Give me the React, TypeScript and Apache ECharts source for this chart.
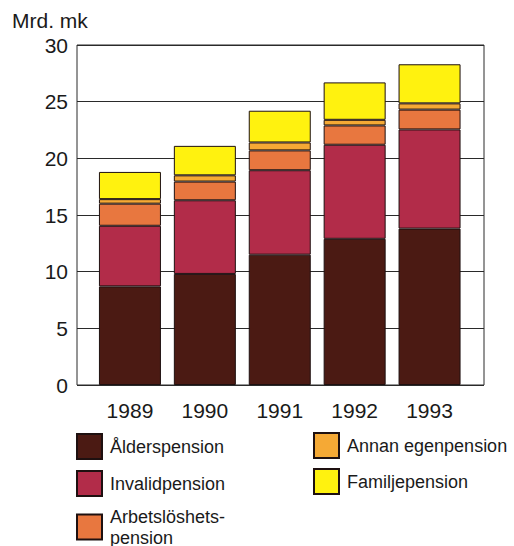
import React, { useEffect, useRef } from "react";
import * as echarts from "echarts";

const years = ["1989", "1990", "1991", "1992", "1993"];
const alder = [8.7, 9.8, 11.5, 12.9, 13.8];
const invalid = [5.35, 6.5, 7.45, 8.3, 8.75];
const arbets = [1.95, 1.65, 1.75, 1.7, 1.75];
const annan = [0.4, 0.55, 0.7, 0.5, 0.55];
const familj = [2.4, 2.6, 2.8, 3.3, 3.45];

const seriesNames = [
  "Ålderspension",
  "Invalidpension",
  "Arbetslöshets-\npension",
  "Annan egenpension",
  "Familjepension",
];
const seriesData = [alder, invalid, arbets, annan, familj];
const colors = ["#4b1a13", "#b22c49", "#e8773f", "#f5a935", "#fff20f"];

const FONT = "'Liberation Sans', Arial, Helvetica, sans-serif";

// legend box positions (left, top of icon)
const legendPos = [
  [76, 433],
  [76, 470],
  [76, 506],
  [313, 432],
  [313, 468],
];

export default function App() {
  const ref = useRef<HTMLDivElement>(null);
  useEffect(() => {
    if (!ref.current) return;
    const chart = echarts.init(ref.current, null, { renderer: "svg" });
    chart.setOption({
      animation: false,
      backgroundColor: "#ffffff",
      textStyle: { fontFamily: FONT },
      grid: [
        {
          left: 77,
          right: 30,
          top: 45,
          bottom: 161,
          show: true,
          borderColor: "#2a2a2a",
          borderWidth: 1,
          backgroundColor: "transparent",
        },
        { left: 92.5, right: 47, top: 45, bottom: 161 },
      ],
      xAxis: [
        {
          gridIndex: 0,
          type: "category",
          data: years,
          show: false,
        },
        {
          gridIndex: 1,
          type: "category",
          data: years,
          axisLine: { show: false },
          axisTick: { show: false },
          axisLabel: {
            color: "#1a1a1a",
            fontSize: 21,
            fontFamily: FONT,
            margin: 15,
          },
        },
      ],
      yAxis: [
        {
          gridIndex: 0,
          type: "value",
          min: 0,
          max: 30,
          interval: 5,
          name: "Mrd. mk",
          nameLocation: "end",
          nameGap: 14,
          nameTextStyle: {
            color: "#1a1a1a",
            fontSize: 21,
            fontFamily: FONT,
            align: "left",
            padding: [0, 0, 0, -65],
          },
          axisLine: { show: false },
          axisTick: { show: false },
          axisLabel: {
            color: "#1a1a1a",
            fontSize: 21,
            fontFamily: FONT,
            margin: 9,
          },
          splitLine: { show: true, lineStyle: { color: "#2a2a2a", width: 1 } },
        },
        {
          gridIndex: 1,
          type: "value",
          min: 0,
          max: 30,
          interval: 5,
          show: false,
          splitLine: { show: false },
        },
      ],
      legend: seriesNames.map((name, i) => ({
        left: legendPos[i][0],
        top: legendPos[i][1],
        padding: 0,
        orient: "vertical",
        itemWidth: 25,
        itemHeight: 25,
        icon: "rect",
        data: [name],
        textStyle: {
          color: "#1a1a1a",
          fontSize: 18,
          fontFamily: FONT,
          lineHeight: 21,
          padding: [0, 0, 0, 3],
        },
        selectedMode: false,
      })),
      series: seriesNames.map((name, i) => ({
        name,
        type: "bar",
        stack: "total",
        xAxisIndex: 1,
        yAxisIndex: 1,
        barWidth: 62,
        data: seriesData[i],
        itemStyle: {
          color: colors[i],
          borderColor: "#1e1010",
          borderWidth: 1,
        },
      })),
    });
    return () => chart.dispose();
  }, []);
  return <div ref={ref} style={{ width: 514, height: 546, position: "absolute", left: 0, top: 0 }} />;
}
